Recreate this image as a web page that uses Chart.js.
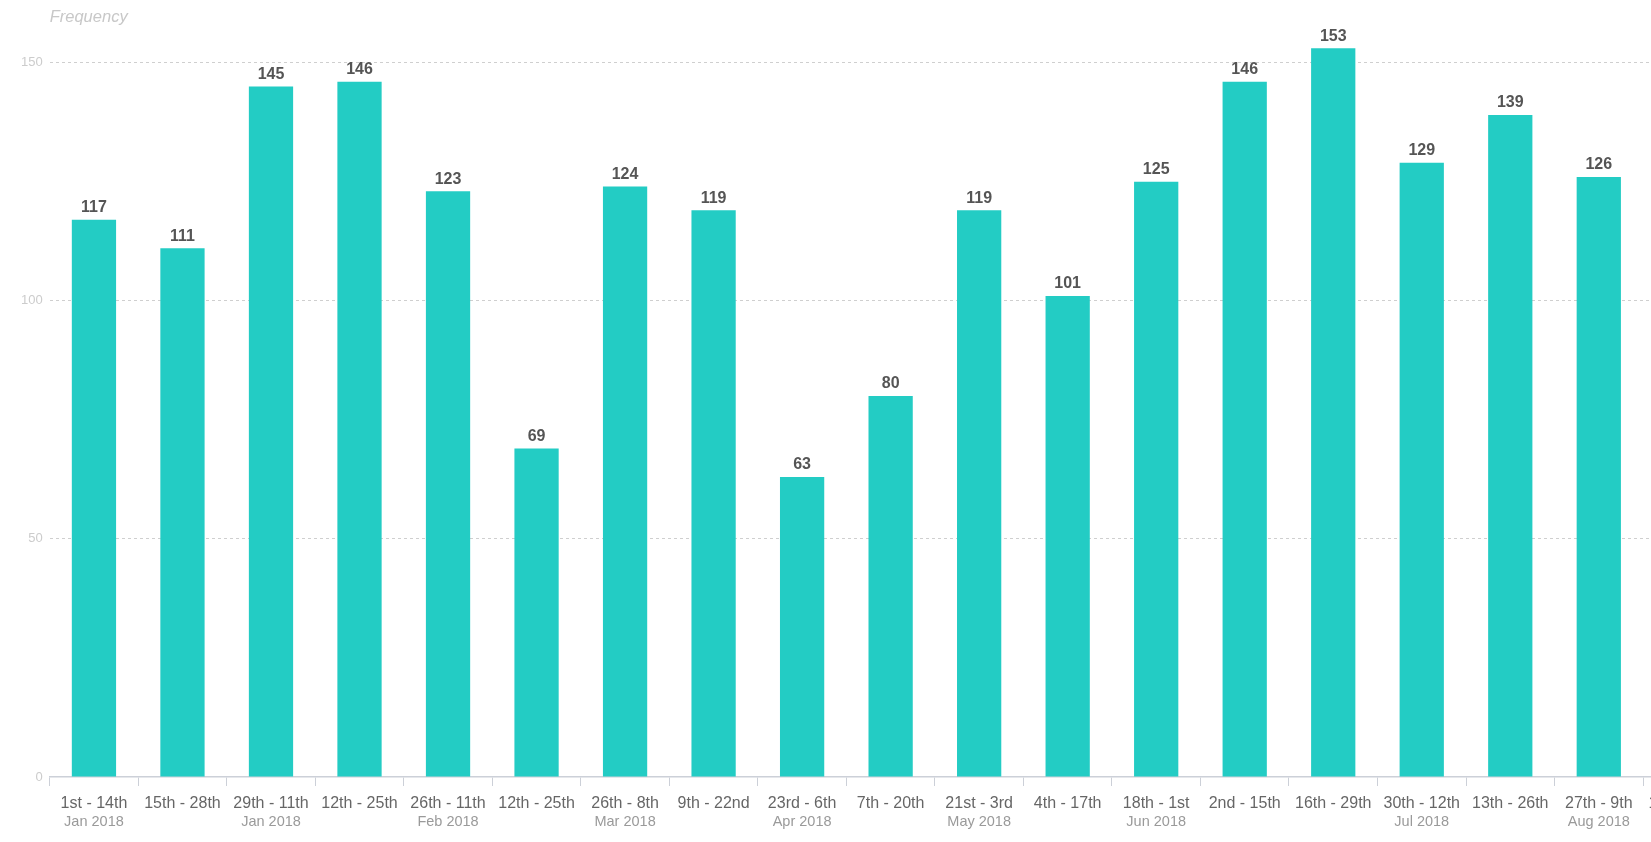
<!DOCTYPE html>
<html>
<head>
<meta charset="utf-8">
<script src="https://cdn.jsdelivr.net/npm/chart.js@4/dist/chart.umd.min.js"></script>
<style>
  html, body { margin: 0; padding: 0; background: #fff; overflow: hidden; }
  #wrap { position: relative; width: 1732px; height: 842px; }
</style>
</head>
<body>
<div id="wrap"><canvas id="chart"></canvas></div>
<script>
const rangeLabels = ["1st - 14th", "15th - 28th", "29th - 11th", "12th - 25th", "26th - 11th", "12th - 25th",
  "26th - 8th", "9th - 22nd", "23rd - 6th", "7th - 20th", "21st - 3rd", "4th - 17th", "18th - 1st",
  "2nd - 15th", "16th - 29th", "30th - 12th", "13th - 26th", "27th - 9th", "10th - 23rd"];
const monthLabels = ["Jan 2018", "", "Jan 2018", "", "Feb 2018", "", "Mar 2018", "", "Apr 2018", "",
  "May 2018", "", "Jun 2018", "", "", "Jul 2018", "", "Aug 2018", ""];
const frequency = [117, 111, 145, 146, 123, 69, 124, 119, 63, 80, 119, 101, 125, 146, 153, 129, 139, 126, null];
const yTicks = [0, 50, 100, 150];

const FONT = "'Liberation Sans', Arial, Helvetica, sans-serif";

// value above each bar
const barValues = {
  id: "barValues",
  afterDatasetsDraw(chart) {
    const ctx = chart.ctx;
    const meta = chart.getDatasetMeta(0);
    ctx.save();
    ctx.font = "bold 16px " + FONT;
    ctx.fillStyle = "#555";
    ctx.textAlign = "center";
    ctx.textBaseline = "bottom";
    meta.data.forEach((bar, i) => {
      const v = frequency[i];
      if (v == null) return;
      ctx.fillText(v, bar.x, bar.y - 4);
    });
    ctx.restore();
  }
};

// axis title placed on top, left-aligned with the plot
const axisTitle = {
  id: "axisTitle",
  afterDraw(chart) {
    const ctx = chart.ctx;
    ctx.save();
    ctx.font = "italic 16.5px " + FONT;
    ctx.fillStyle = "#c8c8c8";
    ctx.textAlign = "left";
    ctx.textBaseline = "alphabetic";
    ctx.fillText("Frequency", chart.chartArea.left, 22);
    ctx.restore();
  }
};

new Chart(document.getElementById("chart"), {
  type: "bar",
  data: {
    labels: rangeLabels,
    datasets: [{
      data: frequency,
      backgroundColor: "#23ccc4",
      borderWidth: 0,
      barPercentage: 0.5,
      categoryPercentage: 1
    }]
  },
  options: {
    responsive: true,
    maintainAspectRatio: false,
    animation: false,
    layout: { padding: { left: 14, right: 0, top: 15, bottom: 12.75 } },
    plugins: {
      legend: { display: false },
      tooltip: { enabled: false }
    },
    scales: {
      x: {
        position: "bottom",
        afterFit(scale) {
          scale.height = 37.75;
        },
        grid: {
          offset: true,
          drawOnChartArea: false,
          tickLength: 9,
          color: "#ccd0d8"
        },
        border: { color: "#ccd0d8", width: 1.5 },
        ticks: {
          color: "#666",
          padding: 6,
          maxRotation: 0,
          autoSkip: false,
          font: { family: FONT, size: 16, lineHeight: 1.4625 }
        }
      },
      x2: {
        type: "category",
        labels: monthLabels,
        position: "bottom",
        grid: { display: false, drawTicks: false },
        border: { display: false },
        ticks: {
          color: "#9a9a9a",
          padding: 0,
          maxRotation: 0,
          autoSkip: false,
          font: { family: FONT, size: 14.5, lineHeight: 1 }
        }
      },
      y: {
        min: 0,
        max: 160,
        afterBuildTicks(scale) {
          scale.ticks = yTicks.map(v => ({ value: v }));
        },
        grid: {
          drawTicks: false,
          color: ctx => ctx.tick && ctx.tick.value === 0 ? "rgba(0,0,0,0)" : "#cfcfcf",
          lineWidth: 1
        },
        border: { display: false, dash: [3, 3] },
        ticks: {
          color: "#cccccc",
          padding: 7,
          font: { family: FONT, size: 13 }
        }
      }
    }
  },
  plugins: [barValues, axisTitle]
});
</script>
</body>
</html>
